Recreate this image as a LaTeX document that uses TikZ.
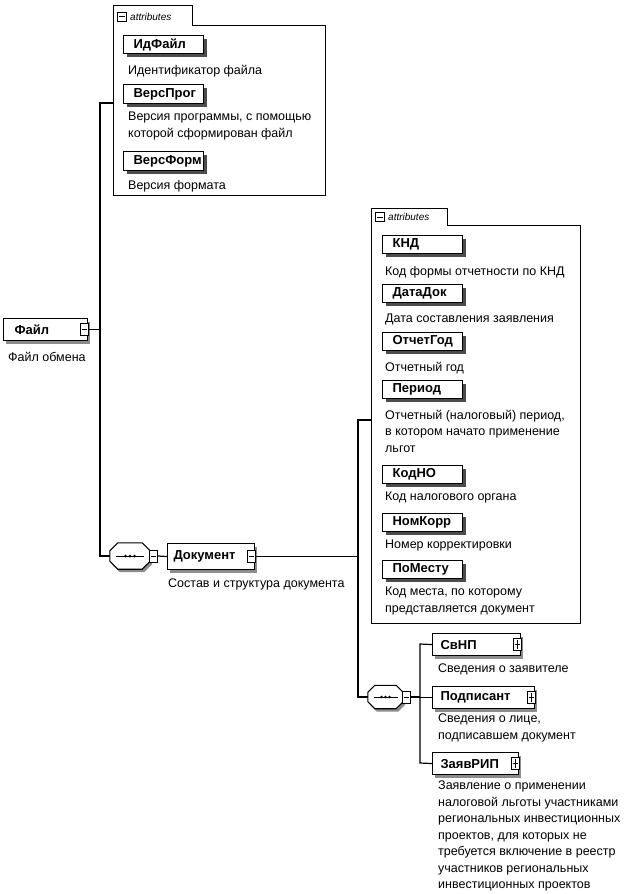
\documentclass[tikz,border=0pt]{standalone}
\usepackage{fontspec}
\setmainfont{Liberation Sans}
\usetikzlibrary{shadows}
\newcommand\octagonpath[2]{([xshift=#2]#1.north west) -- ([xshift=-#2]#1.north east) -- ([yshift=-#2]#1.north east) -- ([yshift=#2]#1.south east) -- ([xshift=-#2]#1.south east) -- ([xshift=#2]#1.south west) -- ([yshift=#2]#1.south west) -- ([yshift=-#2]#1.north west) -- cycle}
\tikzset{
  grp/.style={line width=0.9pt},
  attrbox/.style={draw, line width=1.2pt, fill=white, anchor=north west, inner xsep=10pt, inner ysep=0pt, text width=60pt, minimum height=18pt, font=\bfseries\fontsize{13}{15}\selectfont, drop shadow={shadow xshift=3pt, shadow yshift=-3pt, fill=black!70, opacity=1}},
  elembox/.style={draw, line width=1.1pt, fill=white, anchor=north west, inner ysep=0pt, minimum height=22pt, font=\bfseries\fontsize{13}{15}\selectfont, drop shadow={shadow xshift=2pt, shadow yshift=-3pt, fill=black!45, opacity=1}},
  desc/.style={anchor=north west, inner sep=0pt, align=left, font=\fontsize{12.5}{16.5}\selectfont},
  pmbox/.style={draw, fill=white, line width=0.8pt, minimum width=8pt, minimum height=12pt, inner sep=0pt},
  minusbox/.style={pmbox, path picture={\draw[line width=0.8pt] ([xshift=1.5pt]path picture bounding box.west) -- ([xshift=-1.5pt]path picture bounding box.east);}},
  plusbox/.style={pmbox, path picture={\draw[line width=0.8pt] ([xshift=1.5pt]path picture bounding box.west) -- ([xshift=-1.5pt]path picture bounding box.east) ([yshift=-1.5pt]path picture bounding box.north) -- ([yshift=1.5pt]path picture bounding box.south);}},
  seqanchor/.style={inner sep=0pt, draw=none},
  seqshape/.style={draw, line width=1.1pt, fill=white},
  seqshadow/.style={fill=black!45, transform canvas={xshift=2pt, yshift=-3pt}},
  conn/.style={line width=1.2pt},
  tabtext/.style={anchor=west, inner sep=0pt, font=\itshape\fontsize{10}{12}\selectfont},
  seqline/.style={line width=0.9pt},
}
\begin{document}
\begin{tikzpicture}[x=1pt,y=-1pt]
\useasboundingbox (0,0) rectangle (634,894);

% group 1 (attributes of Файл)
\draw[grp] (113,5) -- (192,5) -- (192,25) -- (325,25) -- (325,195) -- (113,195) -- cycle;
\node[minusbox, minimum width=9pt, minimum height=9pt] (g1icon) at (122,16.5) {};
\node[tabtext] (g1lbl) at (130,16.5) {attributes};
\node[attrbox] (idf) at (123,35) {ИдФайл};
\node[desc] (didf) at (128,65) {Идентификатор файла};
\node[attrbox, minimum height=19pt] (vprog) at (123,84) {ВерсПрог};
\node[desc] (dvprog) at (128,112) {Версия программы, с помощью\\которой сформирован файл};
\node[attrbox, minimum height=19pt] (vform) at (123,151) {ВерсФорм};
\node[desc] (dvform) at (128,180) {Версия формата};

% root
\node[elembox, inner xsep=11pt, text width=62pt] (fajl) at (3,318) {Файл};
\node[minusbox] (fajlpm) at ([xshift=-4pt]fajl.east) {};
\node[desc] (dfajl) at (8,352) {Файл обмена};

% sequence 1
\node[seqanchor, minimum width=40pt, minimum height=26pt] (seq1) at (130,556) {};
\fill[seqshadow] \octagonpath{seq1}{8pt};
\draw[seqshape] \octagonpath{seq1}{8pt};
\draw[seqline] ([xshift=-14pt]seq1.center) -- ([xshift=14pt]seq1.center);
\foreach \dx in {-4.5,0,4.5} \fill ([xshift=\dx pt]seq1.center) circle (1.5pt);
\node[minusbox] (seq1pm) at ([xshift=3.5pt]seq1.east) {};

% Документ
\node[elembox, inner xsep=6pt, text width=75pt, minimum height=26pt] (dok) at (167,543) {Документ};
\node[minusbox] (dokpm) at ([xshift=-4pt]dok.east) {};
\node[desc] (ddok) at (168,579) {Состав и структура документа};

% group 2 (attributes of Документ)
\draw[grp] (371,208) -- (447,208) -- (447,225) -- (580,225) -- (580,623) -- (371,623) -- cycle;
\node[minusbox, minimum width=9pt, minimum height=9pt] (g2icon) at (380,217) {};
\node[tabtext] (g2lbl) at (388,217) {attributes};
\node[attrbox] (knd) at (382,235) {КНД};
\node[desc] (dknd) at (385,266) {Код формы отчетности по КНД};
\node[attrbox] (datadok) at (382,284) {ДатаДок};
\node[desc] (ddatadok) at (385,314) {Дата составления заявления};
\node[attrbox] (otchgod) at (382,332) {ОтчетГод};
\node[desc] (dotchgod) at (385,362) {Отчетный год};
\node[attrbox] (period) at (382,380) {Период};
\node[desc] (dperiod) at (385,410) {Отчетный (налоговый) период,\\в котором начато применение\\льгот};
\node[attrbox] (kodno) at (382,465) {КодНО};
\node[desc] (dkodno) at (385,492) {Код налогового органа};
\node[attrbox] (nomkorr) at (382,513) {НомКорр};
\node[desc] (dnomkorr) at (385,540) {Номер корректировки};
\node[attrbox] (pomestu) at (382,560) {ПоМесту};
\node[desc] (dpomestu) at (385,587) {Код места, по которому\\представляется документ};

% sequence 2
\node[seqanchor, minimum width=35pt, minimum height=23pt] (seq2) at (385.5,697) {};
\fill[seqshadow] \octagonpath{seq2}{7pt};
\draw[seqshape] \octagonpath{seq2}{7pt};
\draw[seqline] ([xshift=-12pt]seq2.center) -- ([xshift=12pt]seq2.center);
\foreach \dx in {-4,0,4} \fill ([xshift=\dx pt]seq2.center) circle (1.4pt);
\node[minusbox] (seq2pm) at ([xshift=3.5pt]seq2.east) {};

% children
\node[elembox, inner xsep=8pt, text width=72pt] (svnp) at (432,633) {СвНП};
\node[plusbox] (svnppm) at ([xshift=-4pt]svnp.east) {};
\node[desc] (dsvnp) at (438,664) {Сведения о заявителе};
\node[elembox, inner xsep=8pt, text width=86pt] (podp) at (432,686) {Подписант};
\node[plusbox] (podppm) at ([xshift=-4pt]podp.east) {};
\node[desc] (dpodp) at (438,714) {Сведения о лице,\\подписавшем документ};
\node[elembox, inner xsep=8pt, text width=70pt] (zayav) at (432,752) {ЗаявРИП};
\node[plusbox] (zayavpm) at ([xshift=-4pt]zayav.east) {};
\node[desc] (dzayav) at (438,781) {Заявление о применении\\налоговой льготы участниками\\региональных инвестиционных\\проектов, для которых не\\требуется включение в реестр\\участников региональных\\инвестиционных проектов};

% connectors
\coordinate (t1a) at (100,103);
\coordinate (t1b) at (100,556);
\coordinate (g1in) at (113,103);
\draw[conn] (fajlpm.east) -- (fajlpm.east -| t1a);
\draw[conn] (g1in) -- (t1a) -- (t1b) -- (seq1.west);
\draw[conn] (seq1pm.east) -- (dok.west);
\coordinate (t2a) at (358,420);
\coordinate (t2b) at (358,697);
\coordinate (g2in) at (371,420);
\draw[conn] (dokpm.east) -- (dokpm.east -| t2a);
\draw[conn] (g2in) -- (t2a) -- (t2b) -- (seq2.west);
\coordinate (t3a) at (420,644);
\coordinate (t3b) at (420,763);
\draw[conn] (seq2pm.east) -- (seq2pm.east -| t3a);
\draw[conn] (svnp.west) -- (t3a) -- (t3b) -- (zayav.west);
\draw[conn] (podp.west) -- (podp.west -| t3a);
\end{tikzpicture}
\end{document}
